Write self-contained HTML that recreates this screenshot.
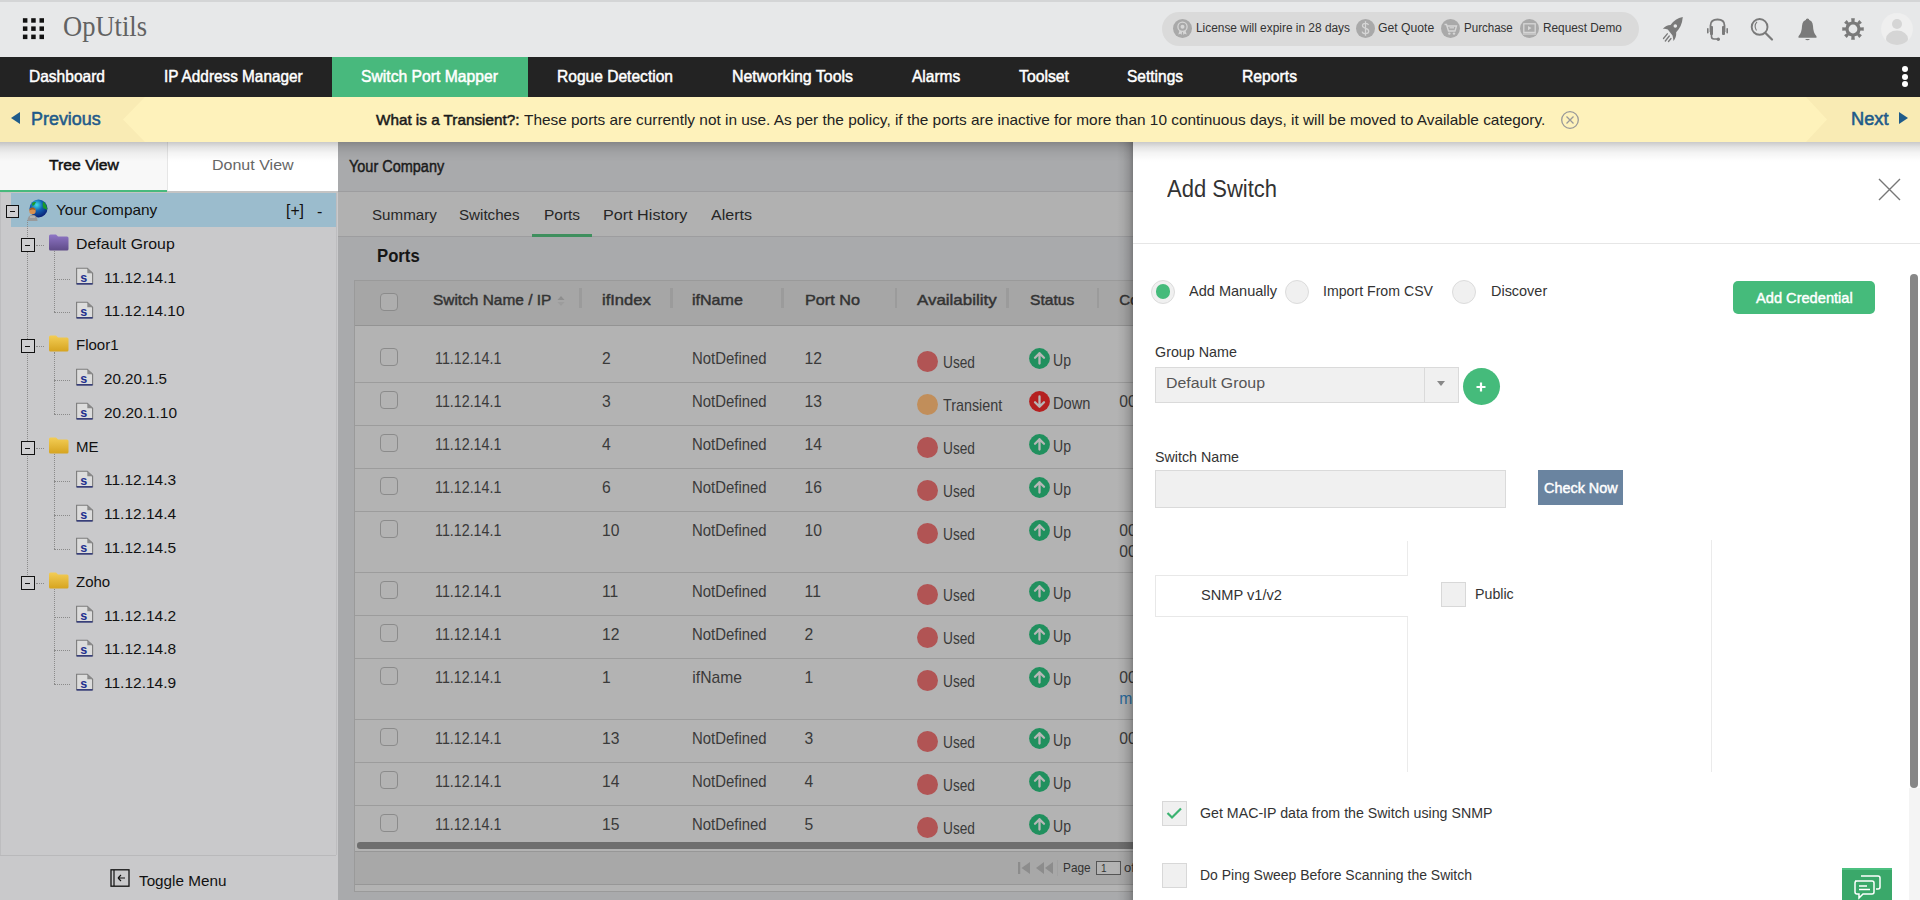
<!DOCTYPE html>
<html><head><meta charset="utf-8"><title>OpUtils</title>
<style>
*{box-sizing:border-box;margin:0;padding:0}
html,body{width:1920px;height:900px;overflow:hidden;background:#fff;font-family:"Liberation Sans",sans-serif}
.t{position:absolute;line-height:1;white-space:nowrap;transform-origin:0 0;z-index:2}
.a{position:absolute}
.z{z-index:6}
</style></head><body>
<div class='a' style='left:0;top:0;width:1920px;height:57px;background:#e7e8e9'></div>
<div class='a' style='left:0;top:0;width:1920px;height:1.5px;background:#d4d5d6'></div>
<svg class='a' style='left:0;top:0' width='60' height='57'><rect x='22.90' y='18.20' width='4.5' height='4.5' fill='#111'/><rect x='31.20' y='18.20' width='4.5' height='4.5' fill='#111'/><rect x='39.50' y='18.20' width='4.5' height='4.5' fill='#111'/><rect x='22.90' y='26.40' width='4.5' height='4.5' fill='#111'/><rect x='31.20' y='26.40' width='4.5' height='4.5' fill='#111'/><rect x='39.50' y='26.40' width='4.5' height='4.5' fill='#111'/><rect x='22.90' y='34.60' width='4.5' height='4.5' fill='#111'/><rect x='31.20' y='34.60' width='4.5' height='4.5' fill='#111'/><rect x='39.50' y='34.60' width='4.5' height='4.5' fill='#111'/></svg>
<div class='a' style='left:1162px;top:12px;width:477px;height:34px;border-radius:17px;background:#dadada'></div>
<div class='a' style='left:1173.0px;top:19px;width:19px;height:19px;border-radius:50%;background:#a9a9a9'></div>
<div class='a' style='left:1356.0px;top:19px;width:19px;height:19px;border-radius:50%;background:#a9a9a9'></div>
<div class='a' style='left:1441.0px;top:19px;width:19px;height:19px;border-radius:50%;background:#a9a9a9'></div>
<div class='a' style='left:1519.5px;top:19px;width:19px;height:19px;border-radius:50%;background:#a9a9a9'></div>
<svg class='a' style='left:1173px;top:19px' width='19' height='19' viewBox='0 0 19 19'><circle cx='9.5' cy='7.8' r='4.6' fill='none' stroke='#d6d6d6' stroke-width='1.3'/><circle cx='9.5' cy='7.8' r='2' fill='#d6d6d6'/><path d='M6.5 11.5 L5.3 15.5 L7.5 14.8 L8.5 16 L9.3 12.5 M12.5 11.5 L13.7 15.5 L11.5 14.8 L10.5 16 L9.7 12.5' fill='#d6d6d6'/></svg>
<svg class='a' style='left:1356px;top:19px' width='19' height='19' viewBox='0 0 19 19'><path d='M12.5 6 Q12 4.3 9.5 4.3 Q6.5 4.3 6.5 6.6 Q6.5 8.6 9.5 9.3 Q12.7 10 12.7 12.3 Q12.7 14.7 9.5 14.7 Q6.7 14.7 6.2 12.6 M9.5 2.3 V16.7' fill='none' stroke='#d6d6d6' stroke-width='1.3'/></svg>
<svg class='a' style='left:1441px;top:19px' width='19' height='19' viewBox='0 0 19 19'><path d='M3.5 5.5 H5.5 L7.5 12 H14 L15.5 7 H6.3' fill='none' stroke='#d6d6d6' stroke-width='1.4'/><path d='M8.5 8.8 H13' stroke='#d6d6d6' stroke-width='1.2'/><circle cx='8.3' cy='14.6' r='1.2' fill='#d6d6d6'/><circle cx='13' cy='14.6' r='1.2' fill='#d6d6d6'/></svg>
<svg class='a' style='left:1519.5px;top:19px' width='19' height='19' viewBox='0 0 19 19'><rect x='3.8' y='4.8' width='11.4' height='8.6' fill='none' stroke='#d6d6d6' stroke-width='1.3'/><path d='M8 6.9 L11.5 9.1 L8 11.3 Z' fill='#d6d6d6'/><path d='M3 15 H16' stroke='#d6d6d6' stroke-width='1.2'/></svg>
<svg class='a' style='left:1660px;top:16px' width='24' height='27' viewBox='0 0 24 27'><path d='M22.8 1 Q15 2.5 10.5 9 Q6 9 2.8 12.8 Q5.5 12.5 7.8 13.5 L12.5 19.5 Q13.2 22.5 13.5 25 Q16.5 21.5 16.2 16.2 Q22 10.5 22.8 1 Z' fill='#7a7a7a'/><circle cx='15.3' cy='10' r='1.8' fill='#e7e8e9'/><path d='M3.5 22.5 L7.3 17.8 M5.3 25 L9.3 20 M8.5 25.5 L11 22.5' stroke='#7a7a7a' stroke-width='1.3' stroke-linecap='round'/></svg>
<svg class='a' style='left:1706px;top:17.5px' width='23' height='24' viewBox='0 0 23 24'><path d='M4.5 14 V7.5 Q4.5 1.5 11.5 1.5 Q18.5 1.5 18.5 7.5 V14' fill='none' stroke='#7a7a7a' stroke-width='1.8'/><rect x='4' y='8' width='3' height='9' rx='1' fill='#7a7a7a'/><rect x='16' y='8' width='3' height='9' rx='1' fill='#7a7a7a'/><rect x='1' y='10' width='1.6' height='5.5' rx='0.8' fill='#7a7a7a'/><rect x='20.4' y='10' width='1.6' height='5.5' rx='0.8' fill='#7a7a7a'/><path d='M5.5 16 V18.5 Q5.5 21 8 21 H11' fill='none' stroke='#7a7a7a' stroke-width='1.6'/><circle cx='12.3' cy='21.2' r='1.7' fill='#7a7a7a'/></svg>
<svg class='a' style='left:1749px;top:16px' width='26' height='26' viewBox='0 0 26 26'><circle cx='10.6' cy='10.9' r='7.9' fill='none' stroke='#7a7a7a' stroke-width='1.9'/><path d='M16.5 17 L23 23.5' stroke='#7a7a7a' stroke-width='2.2' stroke-linecap='round'/><path d='M8 5.8 Q4.5 9.5 7.5 14.5' fill='none' stroke='#7a7a7a' stroke-width='1.1'/></svg>
<svg class='a' style='left:1797px;top:17.5px' width='21' height='24' viewBox='0 0 21 24'><circle cx='10.5' cy='2.3' r='1.8' fill='#7a7a7a'/><path d='M10.5 1.8 Q5.5 1.8 5 8 Q4.8 15 1.5 18.3 V19.8 H19.5 V18.3 Q16.2 15 16 8 Q15.5 1.8 10.5 1.8 Z' fill='#7a7a7a'/><path d='M8 21 Q10.5 23.5 13 21 Z' fill='#7a7a7a'/></svg>
<svg class='a' style='left:1842px;top:18px' width='22' height='22' viewBox='0 0 22 22'><path d='M9.51 3.65 L9.16 0.26 L12.84 0.26 L12.49 3.65 L15.14 4.75 L17.29 2.10 L19.90 4.71 L17.25 6.86 L18.35 9.51 L21.74 9.16 L21.74 12.84 L18.35 12.49 L17.25 15.14 L19.90 17.29 L17.29 19.90 L15.14 17.25 L12.49 18.35 L12.84 21.74 L9.16 21.74 L9.51 18.35 L6.86 17.25 L4.71 19.90 L2.10 17.29 L4.75 15.14 L3.65 12.49 L0.26 12.84 L0.26 9.16 L3.65 9.51 L4.75 6.86 L2.10 4.71 L4.71 2.10 L6.86 4.75 Z' fill='#7a7a7a'/><circle cx='11' cy='11' r='7.6' fill='#7a7a7a'/><circle cx='11' cy='11' r='4.4' fill='#e7e8e9'/></svg>
<svg class='a' style='left:1881px;top:12.7px' width='32' height='32' viewBox='0 0 32 32'><defs><clipPath id='avc'><circle cx='16' cy='16' r='15.9'/></clipPath></defs><circle cx='16' cy='16' r='15.9' fill='#efefef'/><g clip-path='url(#avc)'><circle cx='16' cy='11' r='5' fill='#d5d5d5'/><ellipse cx='16' cy='26' rx='11' ry='8.5' fill='#d5d5d5'/></g></svg>
<div class='a' style='left:0;top:57px;width:1920px;height:40px;background:#232323'></div>
<div class='a' style='left:332px;top:57px;width:196px;height:40px;background:#48b97d'></div>
<div class='a' style='left:1901.5px;top:66.0px;width:6px;height:6px;border-radius:50%;background:#fff'></div>
<div class='a' style='left:1901.5px;top:73.7px;width:6px;height:6px;border-radius:50%;background:#fff'></div>
<div class='a' style='left:1901.5px;top:81.4px;width:6px;height:6px;border-radius:50%;background:#fff'></div>
<div class='a' style='left:0;top:97px;width:1920px;height:45px;background:#fef2bb'></div>
<div class='a' style='left:0;top:97px;width:145px;height:45px;background:#f9ebb4;clip-path:polygon(0 0,100% 0,123px 22.5px,100% 100%,0 100%)'></div>
<div class='a' style='left:1806px;top:97px;width:114px;height:45px;background:#f9ebb4;clip-path:polygon(0 0,100% 0,100% 100%,0 100%,21px 22.5px)'></div>
<div class='a' style='left:11px;top:112px;width:0;height:0;border-top:6.5px solid transparent;border-bottom:6.5px solid transparent;border-right:9px solid #1f5b8a'></div>
<div class='a' style='left:1899px;top:112px;width:0;height:0;border-top:6.5px solid transparent;border-bottom:6.5px solid transparent;border-left:9px solid #1f5b8a'></div>
<svg class='a' style='left:1559.5px;top:109.5px' width='20' height='20' viewBox='0 0 20 20'><circle cx='10' cy='10' r='8.3' fill='none' stroke='#999' stroke-width='1.3'/><path d='M6.5 6.5 L13.5 13.5 M13.5 6.5 L6.5 13.5' stroke='#999' stroke-width='1.3'/></svg>
<div class='a' style='left:0;top:142px;width:338px;height:758px;background:#c9c9cb'></div>
<div class='a' style='left:0;top:142px;width:168px;height:49px;background:#f8f8f8'></div>
<div class='a' style='left:168px;top:142px;width:170px;height:49px;background:#fff'></div>
<div class='a' style='left:167px;top:142px;width:1px;height:49px;background:#e6e6e6'></div>
<div class='a' style='left:0;top:191px;width:338px;height:2px;background:#c4c4c4'></div>
<div class='a' style='left:0;top:189.5px;width:167px;height:2px;background:#48b97d'></div>
<div class='a' style='left:0;top:193px;width:1px;height:662px;background:#bdbdbf'></div>
<div class='a' style='left:335.5px;top:193px;width:1px;height:662px;background:#bdbdbf'></div>
<div class='a' style='left:0;top:855px;width:336px;height:1px;background:#b9b9bb'></div>
<div class='a' style='left:11px;top:193px;width:325px;height:33.5px;background:#9bbccd'></div>
<div class='a' style='left:26.8px;top:220px;width:0;height:362.79999999999995px;border-left:1px dotted #8a8a8a'></div>
<div class='a' style='left:6px;top:204.5px;width:13px;height:13px;border:1.3px solid #111;background:#cfcfd1'><div class='a' style='left:2.9px;top:5.6px;width:5px;height:1px;background:#111'></div></div>
<div class='a' style='left:35.5px;top:245px;width:8.5px;height:0;border-top:1px dotted #8a8a8a'></div>
<div class='a' style='left:21px;top:237.8px;width:14px;height:14px;border:1.3px solid #111;background:#cfcfd1'><div class='a' style='left:3.4px;top:6.1px;width:5px;height:1px;background:#111'></div></div>
<svg class='a' style='left:47.5px;top:233.8px' width='21' height='17' viewBox='0 0 21 17'><defs><linearGradient id='g47.5233.8' x1='0' y1='0' x2='0' y2='1'><stop offset='0' stop-color='#8f76c6'/><stop offset='1' stop-color='#5f4b88'/></linearGradient></defs><path d='M1 2 Q1 0.5 2.5 0.5 H8 L10 2.5 H19 Q20.5 2.5 20.5 4 V15 Q20.5 16.5 19 16.5 H2.5 Q1 16.5 1 15 Z' fill='url(#g47.5233.8)'/></svg>
<div class='a' style='left:53.8px;top:250.8px;width:0;height:61.599999999999966px;border-left:1px dotted #8a8a8a'></div>
<div class='a' style='left:54px;top:279px;width:16px;height:0;border-top:1px dotted #8a8a8a'></div>
<svg class='a' style='left:75.2px;top:267.0px' width='19' height='19' viewBox='0 0 19 19'><path d='M1.6 1.2 H12.3 L17.6 6.3 V16.8 H1.6 Z' fill='#dcdcdc' stroke='#7c7c7c' stroke-width='1.1'/><path d='M12.3 1.2 V6.3 H17.6 Z' fill='#8a8a8a'/><path d='M1.6 16.9 H17.6' stroke='#1a2370' stroke-width='1.3'/><text x='5.2' y='15' font-family='Liberation Sans' font-weight='700' font-size='12.5' fill='#22308f'>s</text></svg>
<div class='a' style='left:54px;top:312px;width:16px;height:0;border-top:1px dotted #8a8a8a'></div>
<svg class='a' style='left:75.2px;top:300.79999999999995px' width='19' height='19' viewBox='0 0 19 19'><path d='M1.6 1.2 H12.3 L17.6 6.3 V16.8 H1.6 Z' fill='#dcdcdc' stroke='#7c7c7c' stroke-width='1.1'/><path d='M12.3 1.2 V6.3 H17.6 Z' fill='#8a8a8a'/><path d='M1.6 16.9 H17.6' stroke='#1a2370' stroke-width='1.3'/><text x='5.2' y='15' font-family='Liberation Sans' font-weight='700' font-size='12.5' fill='#22308f'>s</text></svg>
<div class='a' style='left:35.5px;top:346px;width:8.5px;height:0;border-top:1px dotted #8a8a8a'></div>
<div class='a' style='left:21px;top:339.2px;width:14px;height:14px;border:1.3px solid #111;background:#cfcfd1'><div class='a' style='left:3.4px;top:6.1px;width:5px;height:1px;background:#111'></div></div>
<svg class='a' style='left:47.5px;top:335.2px' width='21' height='17' viewBox='0 0 21 17'><defs><linearGradient id='g47.5335.2' x1='0' y1='0' x2='0' y2='1'><stop offset='0' stop-color='#f3cd55'/><stop offset='1' stop-color='#d6a420'/></linearGradient></defs><path d='M1 2 Q1 0.5 2.5 0.5 H8 L10 2.5 H19 Q20.5 2.5 20.5 4 V15 Q20.5 16.5 19 16.5 H2.5 Q1 16.5 1 15 Z' fill='url(#g47.5335.2)'/></svg>
<div class='a' style='left:53.8px;top:352.2px;width:0;height:61.599999999999966px;border-left:1px dotted #8a8a8a'></div>
<div class='a' style='left:54px;top:380px;width:16px;height:0;border-top:1px dotted #8a8a8a'></div>
<svg class='a' style='left:75.2px;top:368.4px' width='19' height='19' viewBox='0 0 19 19'><path d='M1.6 1.2 H12.3 L17.6 6.3 V16.8 H1.6 Z' fill='#dcdcdc' stroke='#7c7c7c' stroke-width='1.1'/><path d='M12.3 1.2 V6.3 H17.6 Z' fill='#8a8a8a'/><path d='M1.6 16.9 H17.6' stroke='#1a2370' stroke-width='1.3'/><text x='5.2' y='15' font-family='Liberation Sans' font-weight='700' font-size='12.5' fill='#22308f'>s</text></svg>
<div class='a' style='left:54px;top:414px;width:16px;height:0;border-top:1px dotted #8a8a8a'></div>
<svg class='a' style='left:75.2px;top:402.19999999999993px' width='19' height='19' viewBox='0 0 19 19'><path d='M1.6 1.2 H12.3 L17.6 6.3 V16.8 H1.6 Z' fill='#dcdcdc' stroke='#7c7c7c' stroke-width='1.1'/><path d='M12.3 1.2 V6.3 H17.6 Z' fill='#8a8a8a'/><path d='M1.6 16.9 H17.6' stroke='#1a2370' stroke-width='1.3'/><text x='5.2' y='15' font-family='Liberation Sans' font-weight='700' font-size='12.5' fill='#22308f'>s</text></svg>
<div class='a' style='left:35.5px;top:448px;width:8.5px;height:0;border-top:1px dotted #8a8a8a'></div>
<div class='a' style='left:21px;top:440.59999999999997px;width:14px;height:14px;border:1.3px solid #111;background:#cfcfd1'><div class='a' style='left:3.4px;top:6.1px;width:5px;height:1px;background:#111'></div></div>
<svg class='a' style='left:47.5px;top:436.59999999999997px' width='21' height='17' viewBox='0 0 21 17'><defs><linearGradient id='g47.5436.59999999999997' x1='0' y1='0' x2='0' y2='1'><stop offset='0' stop-color='#f3cd55'/><stop offset='1' stop-color='#d6a420'/></linearGradient></defs><path d='M1 2 Q1 0.5 2.5 0.5 H8 L10 2.5 H19 Q20.5 2.5 20.5 4 V15 Q20.5 16.5 19 16.5 H2.5 Q1 16.5 1 15 Z' fill='url(#g47.5436.59999999999997)'/></svg>
<div class='a' style='left:53.8px;top:453.59999999999997px;width:0;height:95.40000000000003px;border-left:1px dotted #8a8a8a'></div>
<div class='a' style='left:54px;top:481px;width:16px;height:0;border-top:1px dotted #8a8a8a'></div>
<svg class='a' style='left:75.2px;top:469.79999999999995px' width='19' height='19' viewBox='0 0 19 19'><path d='M1.6 1.2 H12.3 L17.6 6.3 V16.8 H1.6 Z' fill='#dcdcdc' stroke='#7c7c7c' stroke-width='1.1'/><path d='M12.3 1.2 V6.3 H17.6 Z' fill='#8a8a8a'/><path d='M1.6 16.9 H17.6' stroke='#1a2370' stroke-width='1.3'/><text x='5.2' y='15' font-family='Liberation Sans' font-weight='700' font-size='12.5' fill='#22308f'>s</text></svg>
<div class='a' style='left:54px;top:515px;width:16px;height:0;border-top:1px dotted #8a8a8a'></div>
<svg class='a' style='left:75.2px;top:503.6px' width='19' height='19' viewBox='0 0 19 19'><path d='M1.6 1.2 H12.3 L17.6 6.3 V16.8 H1.6 Z' fill='#dcdcdc' stroke='#7c7c7c' stroke-width='1.1'/><path d='M12.3 1.2 V6.3 H17.6 Z' fill='#8a8a8a'/><path d='M1.6 16.9 H17.6' stroke='#1a2370' stroke-width='1.3'/><text x='5.2' y='15' font-family='Liberation Sans' font-weight='700' font-size='12.5' fill='#22308f'>s</text></svg>
<div class='a' style='left:54px;top:549px;width:16px;height:0;border-top:1px dotted #8a8a8a'></div>
<svg class='a' style='left:75.2px;top:537.4px' width='19' height='19' viewBox='0 0 19 19'><path d='M1.6 1.2 H12.3 L17.6 6.3 V16.8 H1.6 Z' fill='#dcdcdc' stroke='#7c7c7c' stroke-width='1.1'/><path d='M12.3 1.2 V6.3 H17.6 Z' fill='#8a8a8a'/><path d='M1.6 16.9 H17.6' stroke='#1a2370' stroke-width='1.3'/><text x='5.2' y='15' font-family='Liberation Sans' font-weight='700' font-size='12.5' fill='#22308f'>s</text></svg>
<div class='a' style='left:35.5px;top:583px;width:8.5px;height:0;border-top:1px dotted #8a8a8a'></div>
<div class='a' style='left:21px;top:575.8px;width:14px;height:14px;border:1.3px solid #111;background:#cfcfd1'><div class='a' style='left:3.4px;top:6.1px;width:5px;height:1px;background:#111'></div></div>
<svg class='a' style='left:47.5px;top:571.8px' width='21' height='17' viewBox='0 0 21 17'><defs><linearGradient id='g47.5571.8' x1='0' y1='0' x2='0' y2='1'><stop offset='0' stop-color='#f3cd55'/><stop offset='1' stop-color='#d6a420'/></linearGradient></defs><path d='M1 2 Q1 0.5 2.5 0.5 H8 L10 2.5 H19 Q20.5 2.5 20.5 4 V15 Q20.5 16.5 19 16.5 H2.5 Q1 16.5 1 15 Z' fill='url(#g47.5571.8)'/></svg>
<div class='a' style='left:53.8px;top:588.8px;width:0;height:95.39999999999998px;border-left:1px dotted #8a8a8a'></div>
<div class='a' style='left:54px;top:617px;width:16px;height:0;border-top:1px dotted #8a8a8a'></div>
<svg class='a' style='left:75.2px;top:604.9999999999999px' width='19' height='19' viewBox='0 0 19 19'><path d='M1.6 1.2 H12.3 L17.6 6.3 V16.8 H1.6 Z' fill='#dcdcdc' stroke='#7c7c7c' stroke-width='1.1'/><path d='M12.3 1.2 V6.3 H17.6 Z' fill='#8a8a8a'/><path d='M1.6 16.9 H17.6' stroke='#1a2370' stroke-width='1.3'/><text x='5.2' y='15' font-family='Liberation Sans' font-weight='700' font-size='12.5' fill='#22308f'>s</text></svg>
<div class='a' style='left:54px;top:650px;width:16px;height:0;border-top:1px dotted #8a8a8a'></div>
<svg class='a' style='left:75.2px;top:638.8px' width='19' height='19' viewBox='0 0 19 19'><path d='M1.6 1.2 H12.3 L17.6 6.3 V16.8 H1.6 Z' fill='#dcdcdc' stroke='#7c7c7c' stroke-width='1.1'/><path d='M12.3 1.2 V6.3 H17.6 Z' fill='#8a8a8a'/><path d='M1.6 16.9 H17.6' stroke='#1a2370' stroke-width='1.3'/><text x='5.2' y='15' font-family='Liberation Sans' font-weight='700' font-size='12.5' fill='#22308f'>s</text></svg>
<div class='a' style='left:54px;top:684px;width:16px;height:0;border-top:1px dotted #8a8a8a'></div>
<svg class='a' style='left:75.2px;top:672.5999999999999px' width='19' height='19' viewBox='0 0 19 19'><path d='M1.6 1.2 H12.3 L17.6 6.3 V16.8 H1.6 Z' fill='#dcdcdc' stroke='#7c7c7c' stroke-width='1.1'/><path d='M12.3 1.2 V6.3 H17.6 Z' fill='#8a8a8a'/><path d='M1.6 16.9 H17.6' stroke='#1a2370' stroke-width='1.3'/><text x='5.2' y='15' font-family='Liberation Sans' font-weight='700' font-size='12.5' fill='#22308f'>s</text></svg>
<svg class='a' style='left:110px;top:868.5px' width='20' height='18' viewBox='0 0 20 18'><rect x='1' y='0.8' width='18' height='16.4' fill='none' stroke='#111' stroke-width='1.3'/><path d='M4 1 V17' stroke='#111' stroke-width='1.2'/><path d='M8 9 H15 M8 9 L11 6 M8 9 L11 12' stroke='#111' stroke-width='1.1' fill='none'/></svg>
<svg class='a' style='left:26px;top:199px' width='22' height='23' viewBox='0 0 22 23'><defs><radialGradient id='gl' cx='0.4' cy='0.3' r='0.75'><stop offset='0' stop-color='#40e0e8'/><stop offset='0.45' stop-color='#1060b0'/><stop offset='1' stop-color='#0a1a70'/></radialGradient></defs><circle cx='12.5' cy='9.5' r='9' fill='url(#gl)'/><path d='M17 2.5 Q21.5 6 21 11 Q19 9 17.5 9.5 Q16 7 17 2.5 Z' fill='#1a9a2a'/><path d='M6 4 Q8 2.5 10 3 Q9 6 6.5 7 Z' fill='#1a9a2a'/><circle cx='6.5' cy='12' r='3.2' fill='#d89050'/><path d='M3.3 11.5 Q4 8 7 8.5 Q9.5 9 9.8 11.5 Q7 9.5 3.3 11.5 Z' fill='#a05a20'/><path d='M1.5 22 Q1.5 16 6.5 15.8 Q11.5 16 11.5 22 Z' fill='#9a9a9a'/><path d='M4 18 H9' stroke='#ccc' stroke-width='1'/></svg>
<div class='a' style='left:338px;top:142px;width:795px;height:758px;background:#a9aaac'></div>
<div class='a' style='left:338px;top:191px;width:795px;height:1px;background:#9d9d9f'></div>
<div class='a' style='left:338px;top:192px;width:795px;height:44px;background:#b1b1b1'></div>
<div class='a' style='left:338px;top:236px;width:795px;height:1px;background:#9d9d9f'></div>
<div class='a' style='left:531.7px;top:234px;width:60.3px;height:3px;background:#3f8f5e'></div>
<div class='a' style='left:354px;top:279.5px;width:779px;height:612.5px;background:#b3b3b3;border:1px solid #9a9a9a;border-right:none'></div>
<div class='a' style='left:355px;top:280.5px;width:778px;height:45.5px;background:#a6a6a6;border-bottom:1px solid #939393'></div>
<div class='a' style='left:579.4px;top:288px;width:2.5px;height:20px;background:#9b9b9b'></div>
<div class='a' style='left:670px;top:288px;width:2.5px;height:20px;background:#9b9b9b'></div>
<div class='a' style='left:781.3px;top:288px;width:2.5px;height:20px;background:#9b9b9b'></div>
<div class='a' style='left:894.7px;top:288px;width:2.5px;height:20px;background:#9b9b9b'></div>
<div class='a' style='left:1006.3px;top:288px;width:2.5px;height:20px;background:#9b9b9b'></div>
<div class='a' style='left:1096.6px;top:288px;width:2.5px;height:20px;background:#9b9b9b'></div>
<div class='a' style='left:380px;top:292.9px;width:18px;height:18px;border:1px solid #8b8b8b;border-radius:4px;background:#aeaeae'></div>
<svg class='a' style='left:556px;top:294px' width='10' height='14' viewBox='0 0 10 14'><path d='M5 2 L8.5 6 H1.5 Z' fill='#8e8e8e'/><path d='M5 12 L8.5 8 H1.5 Z' fill='#9d9d9d'/></svg>
<div class='a' style='left:380px;top:347.6px;width:18px;height:18px;border:1px solid #8b8b8b;border-radius:4px;background:#b3b3b3'></div>
<div class='a' style='left:916.8px;top:351px;width:21px;height:21px;border-radius:50%;background:#b15454'></div>
<svg class='a' style='left:1028.7px;top:347.8px' width='21' height='21' viewBox='0 0 21 21'><circle cx='10.5' cy='10.5' r='10.4' fill='#20905e'/><path d='M10.5 15.5 V5.2 M6 9.7 L10.5 5.2 L15 9.7' stroke='#b7b7b7' stroke-width='2.3' fill='none' stroke-linecap='round' stroke-linejoin='round'/></svg>
<div class='a' style='left:355px;top:381.8px;width:778px;height:1px;background:#9c9c9c'></div>
<div class='a' style='left:380px;top:390.90000000000003px;width:18px;height:18px;border:1px solid #8b8b8b;border-radius:4px;background:#b3b3b3'></div>
<div class='a' style='left:916.8px;top:394.3px;width:21px;height:21px;border-radius:50%;background:#c18e5a'></div>
<svg class='a' style='left:1028.7px;top:391.1px' width='21' height='21' viewBox='0 0 21 21'><circle cx='10.5' cy='10.5' r='10.4' fill='#b52020'/><path d='M10.5 5.5 V15.8 M6 11.3 L10.5 15.8 L15 11.3' stroke='#b7b7b7' stroke-width='2.3' fill='none' stroke-linecap='round' stroke-linejoin='round'/></svg>
<div class='a' style='left:355px;top:424.8px;width:778px;height:1px;background:#9c9c9c'></div>
<div class='a' style='left:380px;top:433.90000000000003px;width:18px;height:18px;border:1px solid #8b8b8b;border-radius:4px;background:#b3b3b3'></div>
<div class='a' style='left:916.8px;top:437.3px;width:21px;height:21px;border-radius:50%;background:#b15454'></div>
<svg class='a' style='left:1028.7px;top:434.1px' width='21' height='21' viewBox='0 0 21 21'><circle cx='10.5' cy='10.5' r='10.4' fill='#20905e'/><path d='M10.5 15.5 V5.2 M6 9.7 L10.5 5.2 L15 9.7' stroke='#b7b7b7' stroke-width='2.3' fill='none' stroke-linecap='round' stroke-linejoin='round'/></svg>
<div class='a' style='left:355px;top:467.8px;width:778px;height:1px;background:#9c9c9c'></div>
<div class='a' style='left:380px;top:476.90000000000003px;width:18px;height:18px;border:1px solid #8b8b8b;border-radius:4px;background:#b3b3b3'></div>
<div class='a' style='left:916.8px;top:480.3px;width:21px;height:21px;border-radius:50%;background:#b15454'></div>
<svg class='a' style='left:1028.7px;top:477.1px' width='21' height='21' viewBox='0 0 21 21'><circle cx='10.5' cy='10.5' r='10.4' fill='#20905e'/><path d='M10.5 15.5 V5.2 M6 9.7 L10.5 5.2 L15 9.7' stroke='#b7b7b7' stroke-width='2.3' fill='none' stroke-linecap='round' stroke-linejoin='round'/></svg>
<div class='a' style='left:355px;top:510.8px;width:778px;height:1px;background:#9c9c9c'></div>
<div class='a' style='left:380px;top:519.9px;width:18px;height:18px;border:1px solid #8b8b8b;border-radius:4px;background:#b3b3b3'></div>
<div class='a' style='left:916.8px;top:523.3px;width:21px;height:21px;border-radius:50%;background:#b15454'></div>
<svg class='a' style='left:1028.7px;top:520.1px' width='21' height='21' viewBox='0 0 21 21'><circle cx='10.5' cy='10.5' r='10.4' fill='#20905e'/><path d='M10.5 15.5 V5.2 M6 9.7 L10.5 5.2 L15 9.7' stroke='#b7b7b7' stroke-width='2.3' fill='none' stroke-linecap='round' stroke-linejoin='round'/></svg>
<div class='a' style='left:355px;top:571.8px;width:778px;height:1px;background:#9c9c9c'></div>
<div class='a' style='left:380px;top:580.9px;width:18px;height:18px;border:1px solid #8b8b8b;border-radius:4px;background:#b3b3b3'></div>
<div class='a' style='left:916.8px;top:584.3px;width:21px;height:21px;border-radius:50%;background:#b15454'></div>
<svg class='a' style='left:1028.7px;top:581.0999999999999px' width='21' height='21' viewBox='0 0 21 21'><circle cx='10.5' cy='10.5' r='10.4' fill='#20905e'/><path d='M10.5 15.5 V5.2 M6 9.7 L10.5 5.2 L15 9.7' stroke='#b7b7b7' stroke-width='2.3' fill='none' stroke-linecap='round' stroke-linejoin='round'/></svg>
<div class='a' style='left:355px;top:614.8px;width:778px;height:1px;background:#9c9c9c'></div>
<div class='a' style='left:380px;top:623.9px;width:18px;height:18px;border:1px solid #8b8b8b;border-radius:4px;background:#b3b3b3'></div>
<div class='a' style='left:916.8px;top:627.3px;width:21px;height:21px;border-radius:50%;background:#b15454'></div>
<svg class='a' style='left:1028.7px;top:624.0999999999999px' width='21' height='21' viewBox='0 0 21 21'><circle cx='10.5' cy='10.5' r='10.4' fill='#20905e'/><path d='M10.5 15.5 V5.2 M6 9.7 L10.5 5.2 L15 9.7' stroke='#b7b7b7' stroke-width='2.3' fill='none' stroke-linecap='round' stroke-linejoin='round'/></svg>
<div class='a' style='left:355px;top:657.8px;width:778px;height:1px;background:#9c9c9c'></div>
<div class='a' style='left:380px;top:666.9px;width:18px;height:18px;border:1px solid #8b8b8b;border-radius:4px;background:#b3b3b3'></div>
<div class='a' style='left:916.8px;top:670.3px;width:21px;height:21px;border-radius:50%;background:#b15454'></div>
<svg class='a' style='left:1028.7px;top:667.0999999999999px' width='21' height='21' viewBox='0 0 21 21'><circle cx='10.5' cy='10.5' r='10.4' fill='#20905e'/><path d='M10.5 15.5 V5.2 M6 9.7 L10.5 5.2 L15 9.7' stroke='#b7b7b7' stroke-width='2.3' fill='none' stroke-linecap='round' stroke-linejoin='round'/></svg>
<div class='a' style='left:355px;top:718.5px;width:778px;height:1px;background:#9c9c9c'></div>
<div class='a' style='left:380px;top:727.6px;width:18px;height:18px;border:1px solid #8b8b8b;border-radius:4px;background:#b3b3b3'></div>
<div class='a' style='left:916.8px;top:731px;width:21px;height:21px;border-radius:50%;background:#b15454'></div>
<svg class='a' style='left:1028.7px;top:727.8px' width='21' height='21' viewBox='0 0 21 21'><circle cx='10.5' cy='10.5' r='10.4' fill='#20905e'/><path d='M10.5 15.5 V5.2 M6 9.7 L10.5 5.2 L15 9.7' stroke='#b7b7b7' stroke-width='2.3' fill='none' stroke-linecap='round' stroke-linejoin='round'/></svg>
<div class='a' style='left:355px;top:761.8px;width:778px;height:1px;background:#9c9c9c'></div>
<div class='a' style='left:380px;top:770.9px;width:18px;height:18px;border:1px solid #8b8b8b;border-radius:4px;background:#b3b3b3'></div>
<div class='a' style='left:916.8px;top:774.3px;width:21px;height:21px;border-radius:50%;background:#b15454'></div>
<svg class='a' style='left:1028.7px;top:771.0999999999999px' width='21' height='21' viewBox='0 0 21 21'><circle cx='10.5' cy='10.5' r='10.4' fill='#20905e'/><path d='M10.5 15.5 V5.2 M6 9.7 L10.5 5.2 L15 9.7' stroke='#b7b7b7' stroke-width='2.3' fill='none' stroke-linecap='round' stroke-linejoin='round'/></svg>
<div class='a' style='left:355px;top:804.8px;width:778px;height:1px;background:#9c9c9c'></div>
<div class='a' style='left:380px;top:813.9px;width:18px;height:18px;border:1px solid #8b8b8b;border-radius:4px;background:#b3b3b3'></div>
<div class='a' style='left:916.8px;top:817.3px;width:21px;height:21px;border-radius:50%;background:#b15454'></div>
<svg class='a' style='left:1028.7px;top:814.0999999999999px' width='21' height='21' viewBox='0 0 21 21'><circle cx='10.5' cy='10.5' r='10.4' fill='#20905e'/><path d='M10.5 15.5 V5.2 M6 9.7 L10.5 5.2 L15 9.7' stroke='#b7b7b7' stroke-width='2.3' fill='none' stroke-linecap='round' stroke-linejoin='round'/></svg>
<div class='a' style='left:357px;top:842.2px;width:790px;height:6.4px;border-radius:3.2px;background:#6e6e6e'></div>
<div class='a' style='left:355px;top:851px;width:778px;height:1px;background:#979797'></div>
<div class='a' style='left:355px;top:852px;width:778px;height:33px;background:#a8a8a8;border-bottom:1px solid #979797'></div>
<div class='a' style='left:355px;top:892px;width:778px;height:8px;background:#a9aaac'></div>
<svg class='a' style='left:1018px;top:860px' width='40' height='16' viewBox='0 0 40 16'><path d='M1 2 V14' stroke='#8c8c8c' stroke-width='2.5'/><path d='M12 2 L3.5 8 L12 14 Z' fill='#8c8c8c'/><path d='M26 2 L18 8 L26 14 Z M35 2 L27 8 L35 14 Z' fill='#8c8c8c'/><path d='M40 0 V16' stroke='#9a9a9a' stroke-width='1'/></svg>
<div class='a' style='left:1095.5px;top:861px;width:25.5px;height:13.5px;border:1px solid #555;background:#b3b3b3'></div>
<div class='a' style='left:336px;top:855px;width:2px;height:45px;background:#c9c9cb'></div>
<div class='a' style='left:1133px;top:142px;width:787px;height:758px;background:#fff;z-index:5'></div>
<div class='a' style='left:1117px;top:142px;width:16px;height:758px;z-index:5;background:linear-gradient(to right,rgba(0,0,0,0),rgba(0,0,0,0.05) 40%,rgba(0,0,0,0.14) 75%,rgba(0,0,0,0.28))'></div>
<svg class='a z' style='left:1878px;top:177.5px' width='23' height='23' viewBox='0 0 23 23'><path d='M1 1 L22 22 M22 1 L1 22' stroke='#777' stroke-width='1.4'/></svg>
<div class='a z' style='left:1133px;top:243px;width:787px;height:1px;background:#e6e6e6'></div>
<div class='a z' style='left:1151px;top:279.5px;width:24px;height:24px;border-radius:50%;background:#f0f0f0;border:1px solid #dcdcdc'></div>
<div class='a z' style='left:1155.7px;top:284.2px;width:14.6px;height:14.6px;border-radius:50%;background:#45bb7b'></div>
<div class='a z' style='left:1284.6px;top:279.5px;width:24px;height:24px;border-radius:50%;background:#f0f0f0;border:1px solid #dcdcdc'></div>
<div class='a z' style='left:1451.8px;top:279.5px;width:24px;height:24px;border-radius:50%;background:#f0f0f0;border:1px solid #dcdcdc'></div>
<div class='a z' style='left:1733px;top:281.3px;width:142px;height:32.3px;border-radius:5px;background:#45bb7b'></div>
<div class='a z' style='left:1155px;top:366.5px;width:304px;height:36px;background:#f0f0f0;border:1px solid #dadada'></div>
<div class='a z' style='left:1424px;top:367px;width:1px;height:35px;background:#dadada'></div>
<div class='a z' style='left:1436.8px;top:381px;width:0;height:0;border-left:4.8px solid transparent;border-right:4.8px solid transparent;border-top:5px solid #888'></div>
<div class='a z' style='left:1462.9px;top:368px;width:37px;height:37px;border-radius:50%;background:#45bb7b'></div>
<svg class='a z' style='left:1475.4px;top:380.5px' width='12' height='12' viewBox='0 0 12 12'><path d='M6 1.5 V10.5 M1.5 6 H10.5' stroke='#fff' stroke-width='2.2'/></svg>
<div class='a z' style='left:1155px;top:470px;width:351px;height:37.5px;background:#f0f0f0;border:1px solid #dadada'></div>
<div class='a z' style='left:1538px;top:470px;width:85px;height:34.5px;background:#6a84a0'></div>
<div class='a z' style='left:1407px;top:541px;width:1px;height:34.5px;background:#ebebeb'></div>
<div class='a z' style='left:1407px;top:615.5px;width:1px;height:156.5px;background:#ebebeb'></div>
<div class='a z' style='left:1711px;top:540px;width:1px;height:232px;background:#ebebeb'></div>
<div class='a z' style='left:1155px;top:575px;width:253px;height:42px;border:1px solid #e8e8e8;border-right:none'></div>
<div class='a z' style='left:1441.4px;top:582.2px;width:24.5px;height:24.5px;background:#f0f0f0;border:1px solid #d8d8d8'></div>
<div class='a z' style='left:1162.2px;top:801.2px;width:24.5px;height:24.5px;background:#f0f0f0;border:1px solid #d8d8d8'></div>
<svg class='a z' style='left:1166px;top:806px' width='17' height='14' viewBox='0 0 17 14'><path d='M1.5 7 L6 11.5 L15 2.5' stroke='#3cb371' stroke-width='2.2' fill='none'/></svg>
<div class='a z' style='left:1162.2px;top:863.1px;width:24.5px;height:24.5px;background:#f0f0f0;border:1px solid #d8d8d8'></div>
<div class='a z' style='left:1909px;top:788px;width:11px;height:112px;background:#f4f4f4'></div>
<div class='a z' style='left:1910.3px;top:273.6px;width:7.6px;height:514.4px;border-radius:4px;background:#878787'></div>
<div class='a z' style='left:1842px;top:867.5px;width:50px;height:33px;background:#3aa86a;border-top:2px solid #4cc080'></div>
<svg class='a z' style='left:1852px;top:873px' width='30' height='27' viewBox='0 0 30 27'><path d='M9 3 H26 Q28 3 28 5 V14 Q28 16 26 16 H24' fill='none' stroke='#fff' stroke-width='1.5'/><path d='M3 8 H20 Q22 8 22 10 V19 Q22 21 20 21 H11 L7 25 V21 H5 Q3 21 3 19 V10 Q3 8 5 8 Z' fill='#3aa86a' stroke='#fff' stroke-width='1.5'/><path d='M7 13 H15 M7 16.5 H18' stroke='#fff' stroke-width='1.4'/></svg>
<div class='a' style='left:0;top:142px;width:1920px;height:20px;background:linear-gradient(rgba(0,0,0,0.21),rgba(0,0,0,0.11) 25%,rgba(0,0,0,0.045) 55%,rgba(0,0,0,0.01) 85%,rgba(0,0,0,0));z-index:7'></div>
<span class='t' style='left:63.0px;top:13.00px;font-size:28.5px;font-family:"Liberation Serif",serif;color:#626262;transform:scaleX(0.9306);'>OpUtils</span>
<span class='t' style='left:1196.0px;top:22.00px;font-size:12px;color:#333;transform:scaleX(0.9909);'>License will expire in 28 days</span>
<span class='t' style='left:1378.4px;top:22.00px;font-size:12px;color:#333;transform:scaleX(1.0167);'>Get Quote</span>
<span class='t' style='left:1464.2px;top:22.00px;font-size:12px;color:#333;transform:scaleX(0.9625);'>Purchase</span>
<span class='t' style='left:1542.5px;top:22.00px;font-size:12px;color:#333;transform:scaleX(0.9844);'>Request Demo</span>
<span class='t' style='left:29.0px;top:68.00px;font-size:16.5px;color:#fff;transform:scaleX(0.9414);-webkit-text-stroke:0.5px #fff;'>Dashboard</span>
<span class='t' style='left:164.0px;top:68.00px;font-size:16.5px;color:#fff;transform:scaleX(0.9289);-webkit-text-stroke:0.5px #fff;'>IP Address Manager</span>
<span class='t' style='left:361.0px;top:68.00px;font-size:16.5px;color:#fff;transform:scaleX(0.9515);-webkit-text-stroke:0.5px #fff;'>Switch Port Mapper</span>
<span class='t' style='left:557.0px;top:68.00px;font-size:16.5px;color:#fff;transform:scaleX(0.9437);-webkit-text-stroke:0.5px #fff;'>Rogue Detection</span>
<span class='t' style='left:731.7px;top:68.00px;font-size:16.5px;color:#fff;transform:scaleX(0.9653);-webkit-text-stroke:0.5px #fff;'>Networking Tools</span>
<span class='t' style='left:911.7px;top:68.00px;font-size:16.5px;color:#fff;transform:scaleX(0.9407);-webkit-text-stroke:0.5px #fff;'>Alarms</span>
<span class='t' style='left:1019.0px;top:68.00px;font-size:16.5px;color:#fff;transform:scaleX(0.9564);-webkit-text-stroke:0.5px #fff;'>Toolset</span>
<span class='t' style='left:1127.3px;top:68.00px;font-size:16.5px;color:#fff;transform:scaleX(0.9392);-webkit-text-stroke:0.5px #fff;'>Settings</span>
<span class='t' style='left:1242.2px;top:68.00px;font-size:16.5px;color:#fff;transform:scaleX(0.9519);-webkit-text-stroke:0.5px #fff;'>Reports</span>
<span class='t' style='left:31.0px;top:110.00px;font-size:18px;color:#1f5b8a;transform:scaleX(0.9953);-webkit-text-stroke:0.55px #1f5b8a;'>Previous</span>
<span class='t' style='left:1851.0px;top:110.00px;font-size:18px;color:#1f5b8a;transform:scaleX(1.0158);-webkit-text-stroke:0.55px #1f5b8a;'>Next</span>
<span class='t' style='left:375.6px;top:112.00px;font-size:15px;color:#1a1a1a;transform:scaleX(1.0177);-webkit-text-stroke:0.5px #1a1a1a;'>What is a Transient?:</span>
<span class='t' style='left:523.5px;top:112.00px;font-size:15px;color:#222;transform:scaleX(1.0259);'>These ports are currently not in use. As per the policy, if the ports are inactive for more than 10 continuous days, it will be moved to Available category.</span>
<span class='t' style='left:48.8px;top:157.00px;font-size:15px;color:#111;transform:scaleX(1.0494);-webkit-text-stroke:0.5px #111;'>Tree View</span>
<span class='t' style='left:212.0px;top:157.00px;font-size:15px;color:#666;transform:scaleX(1.0675);'>Donut View</span>
<span class='t' style='left:56.0px;top:202.00px;font-size:15px;color:#111;transform:scaleX(1.0266);'>Your Company</span>
<span class='t' style='left:76.0px;top:236.00px;font-size:15px;color:#111;transform:scaleX(1.0569);'>Default Group</span>
<span class='t' style='left:103.7px;top:270.00px;font-size:15px;color:#111;transform:scaleX(1.0344);'>11.12.14.1</span>
<span class='t' style='left:103.7px;top:303.00px;font-size:15px;color:#111;transform:scaleX(1.0302);'>11.12.14.10</span>
<span class='t' style='left:76.0px;top:337.00px;font-size:15px;color:#111;'>Floor1</span>
<span class='t' style='left:103.7px;top:371.00px;font-size:15px;color:#111;transform:scaleX(1.0070);'>20.20.1.5</span>
<span class='t' style='left:103.7px;top:405.00px;font-size:15px;color:#111;transform:scaleX(1.0295);'>20.20.1.10</span>
<span class='t' style='left:76.0px;top:439.00px;font-size:15px;color:#111;'>ME</span>
<span class='t' style='left:103.7px;top:472.00px;font-size:15px;color:#111;transform:scaleX(1.0344);'>11.12.14.3</span>
<span class='t' style='left:103.7px;top:506.00px;font-size:15px;color:#111;transform:scaleX(1.0344);'>11.12.14.4</span>
<span class='t' style='left:103.7px;top:540.00px;font-size:15px;color:#111;transform:scaleX(1.0344);'>11.12.14.5</span>
<span class='t' style='left:76.0px;top:574.00px;font-size:15px;color:#111;'>Zoho</span>
<span class='t' style='left:103.7px;top:608.00px;font-size:15px;color:#111;transform:scaleX(1.0344);'>11.12.14.2</span>
<span class='t' style='left:103.7px;top:641.00px;font-size:15px;color:#111;transform:scaleX(1.0344);'>11.12.14.8</span>
<span class='t' style='left:103.7px;top:675.00px;font-size:15px;color:#111;transform:scaleX(1.0344);'>11.12.14.9</span>
<span class='t' style='left:286.0px;top:203.00px;font-size:16px;color:#111;transform:scaleX(0.9871);'>[+]</span>
<span class='t' style='left:317.0px;top:204.00px;font-size:16px;color:#111;'>-</span>
<span class='t' style='left:139.1px;top:873.00px;font-size:15px;color:#111;transform:scaleX(1.0174);'>Toggle Menu</span>
<span class='t' style='left:349.4px;top:159.00px;font-size:16px;color:#1b1b1b;transform:scaleX(0.9045);-webkit-text-stroke:0.45px #1b1b1b;'>Your Company</span>
<span class='t' style='left:371.9px;top:207.00px;font-size:15.5px;color:#262626;transform:scaleX(0.9770);'>Summary</span>
<span class='t' style='left:459.4px;top:207.00px;font-size:15.5px;color:#262626;transform:scaleX(0.9769);'>Switches</span>
<span class='t' style='left:543.9px;top:207.00px;font-size:15.5px;color:#262626;transform:scaleX(0.9976);'>Ports</span>
<span class='t' style='left:603.4px;top:207.00px;font-size:15.5px;color:#262626;transform:scaleX(1.0424);'>Port History</span>
<span class='t' style='left:711.0px;top:207.00px;font-size:15.5px;color:#262626;transform:scaleX(1.0347);'>Alerts</span>
<span class='t' style='left:377.2px;top:247.00px;font-size:18px;font-weight:700;color:#161616;transform:scaleX(0.9279);'>Ports</span>
<span class='t' style='left:433.4px;top:292.00px;font-size:15px;color:#333;transform:scaleX(1.0283);-webkit-text-stroke:0.45px #333;'>Switch Name / IP</span>
<span class='t' style='left:602.0px;top:292.00px;font-size:15px;color:#333;transform:scaleX(1.1017);-webkit-text-stroke:0.45px #333;'>ifIndex</span>
<span class='t' style='left:692.3px;top:292.00px;font-size:15px;color:#333;transform:scaleX(1.0691);-webkit-text-stroke:0.45px #333;'>ifName</span>
<span class='t' style='left:804.6px;top:292.00px;font-size:15px;color:#333;transform:scaleX(1.0794);-webkit-text-stroke:0.45px #333;'>Port No</span>
<span class='t' style='left:917.4px;top:292.00px;font-size:15px;color:#333;transform:scaleX(1.1276);-webkit-text-stroke:0.45px #333;'>Availability</span>
<span class='t' style='left:1029.6px;top:292.00px;font-size:15px;color:#333;transform:scaleX(1.0416);-webkit-text-stroke:0.45px #333;'>Status</span>
<span class='t' style='left:1119.3px;top:292.00px;font-size:15px;color:#333;-webkit-text-stroke:0.45px #333;'>Co</span>
<span class='t' style='left:434.6px;top:351.00px;font-size:15.7px;color:#3a3a3a;transform:scaleX(0.9098);'>11.12.14.1</span>
<span class='t' style='left:602.0px;top:351.00px;font-size:15.7px;color:#3a3a3a;'>2</span>
<span class='t' style='left:692.3px;top:351.00px;font-size:15.7px;color:#3a3a3a;transform:scaleX(0.9505);'>NotDefined</span>
<span class='t' style='left:804.6px;top:351.00px;font-size:15.7px;color:#3a3a3a;'>12</span>
<span class='t' style='left:943.0px;top:355.00px;font-size:15.7px;color:#3a3a3a;transform:scaleX(0.8737);'>Used</span>
<span class='t' style='left:1053.0px;top:353.00px;font-size:15.7px;color:#3a3a3a;transform:scaleX(0.8972);'>Up</span>
<span class='t' style='left:434.6px;top:394.00px;font-size:15.7px;color:#3a3a3a;transform:scaleX(0.9098);'>11.12.14.1</span>
<span class='t' style='left:602.0px;top:394.00px;font-size:15.7px;color:#3a3a3a;'>3</span>
<span class='t' style='left:692.3px;top:394.00px;font-size:15.7px;color:#3a3a3a;transform:scaleX(0.9505);'>NotDefined</span>
<span class='t' style='left:804.6px;top:394.00px;font-size:15.7px;color:#3a3a3a;'>13</span>
<span class='t' style='left:943.0px;top:398.00px;font-size:15.7px;color:#3a3a3a;transform:scaleX(0.9134);'>Transient</span>
<span class='t' style='left:1053.0px;top:396.00px;font-size:15.7px;color:#3a3a3a;transform:scaleX(0.9349);'>Down</span>
<span class='t' style='left:1119.3px;top:394.00px;font-size:15.7px;color:#3a3a3a;'>00</span>
<span class='t' style='left:434.6px;top:437.00px;font-size:15.7px;color:#3a3a3a;transform:scaleX(0.9098);'>11.12.14.1</span>
<span class='t' style='left:602.0px;top:437.00px;font-size:15.7px;color:#3a3a3a;'>4</span>
<span class='t' style='left:692.3px;top:437.00px;font-size:15.7px;color:#3a3a3a;transform:scaleX(0.9505);'>NotDefined</span>
<span class='t' style='left:804.6px;top:437.00px;font-size:15.7px;color:#3a3a3a;'>14</span>
<span class='t' style='left:943.0px;top:441.00px;font-size:15.7px;color:#3a3a3a;transform:scaleX(0.8737);'>Used</span>
<span class='t' style='left:1053.0px;top:439.00px;font-size:15.7px;color:#3a3a3a;transform:scaleX(0.8972);'>Up</span>
<span class='t' style='left:434.6px;top:480.00px;font-size:15.7px;color:#3a3a3a;transform:scaleX(0.9098);'>11.12.14.1</span>
<span class='t' style='left:602.0px;top:480.00px;font-size:15.7px;color:#3a3a3a;'>6</span>
<span class='t' style='left:692.3px;top:480.00px;font-size:15.7px;color:#3a3a3a;transform:scaleX(0.9505);'>NotDefined</span>
<span class='t' style='left:804.6px;top:480.00px;font-size:15.7px;color:#3a3a3a;'>16</span>
<span class='t' style='left:943.0px;top:484.00px;font-size:15.7px;color:#3a3a3a;transform:scaleX(0.8737);'>Used</span>
<span class='t' style='left:1053.0px;top:482.00px;font-size:15.7px;color:#3a3a3a;transform:scaleX(0.8972);'>Up</span>
<span class='t' style='left:434.6px;top:523.00px;font-size:15.7px;color:#3a3a3a;transform:scaleX(0.9098);'>11.12.14.1</span>
<span class='t' style='left:602.0px;top:523.00px;font-size:15.7px;color:#3a3a3a;'>10</span>
<span class='t' style='left:692.3px;top:523.00px;font-size:15.7px;color:#3a3a3a;transform:scaleX(0.9505);'>NotDefined</span>
<span class='t' style='left:804.6px;top:523.00px;font-size:15.7px;color:#3a3a3a;'>10</span>
<span class='t' style='left:943.0px;top:527.00px;font-size:15.7px;color:#3a3a3a;transform:scaleX(0.8737);'>Used</span>
<span class='t' style='left:1053.0px;top:525.00px;font-size:15.7px;color:#3a3a3a;transform:scaleX(0.8972);'>Up</span>
<span class='t' style='left:1119.3px;top:523.00px;font-size:15.7px;color:#3a3a3a;'>00</span>
<span class='t' style='left:1119.3px;top:544.00px;font-size:15.7px;color:#3a3a3a;'>00</span>
<span class='t' style='left:434.6px;top:584.00px;font-size:15.7px;color:#3a3a3a;transform:scaleX(0.9098);'>11.12.14.1</span>
<span class='t' style='left:602.0px;top:584.00px;font-size:15.7px;color:#3a3a3a;'>11</span>
<span class='t' style='left:692.3px;top:584.00px;font-size:15.7px;color:#3a3a3a;transform:scaleX(0.9505);'>NotDefined</span>
<span class='t' style='left:804.6px;top:584.00px;font-size:15.7px;color:#3a3a3a;'>11</span>
<span class='t' style='left:943.0px;top:588.00px;font-size:15.7px;color:#3a3a3a;transform:scaleX(0.8737);'>Used</span>
<span class='t' style='left:1053.0px;top:586.00px;font-size:15.7px;color:#3a3a3a;transform:scaleX(0.8972);'>Up</span>
<span class='t' style='left:434.6px;top:627.00px;font-size:15.7px;color:#3a3a3a;transform:scaleX(0.9098);'>11.12.14.1</span>
<span class='t' style='left:602.0px;top:627.00px;font-size:15.7px;color:#3a3a3a;'>12</span>
<span class='t' style='left:692.3px;top:627.00px;font-size:15.7px;color:#3a3a3a;transform:scaleX(0.9505);'>NotDefined</span>
<span class='t' style='left:804.6px;top:627.00px;font-size:15.7px;color:#3a3a3a;'>2</span>
<span class='t' style='left:943.0px;top:631.00px;font-size:15.7px;color:#3a3a3a;transform:scaleX(0.8737);'>Used</span>
<span class='t' style='left:1053.0px;top:629.00px;font-size:15.7px;color:#3a3a3a;transform:scaleX(0.8972);'>Up</span>
<span class='t' style='left:434.6px;top:670.00px;font-size:15.7px;color:#3a3a3a;transform:scaleX(0.9098);'>11.12.14.1</span>
<span class='t' style='left:602.0px;top:670.00px;font-size:15.7px;color:#3a3a3a;'>1</span>
<span class='t' style='left:692.3px;top:670.00px;font-size:15.7px;color:#3a3a3a;'>ifName</span>
<span class='t' style='left:804.6px;top:670.00px;font-size:15.7px;color:#3a3a3a;'>1</span>
<span class='t' style='left:943.0px;top:674.00px;font-size:15.7px;color:#3a3a3a;transform:scaleX(0.8737);'>Used</span>
<span class='t' style='left:1053.0px;top:672.00px;font-size:15.7px;color:#3a3a3a;transform:scaleX(0.8972);'>Up</span>
<span class='t' style='left:1119.3px;top:670.00px;font-size:15.7px;color:#3a3a3a;'>00</span>
<span class='t' style='left:1119.3px;top:691.00px;font-size:15.7px;color:#2a6a9a;'>m</span>
<span class='t' style='left:434.6px;top:731.00px;font-size:15.7px;color:#3a3a3a;transform:scaleX(0.9098);'>11.12.14.1</span>
<span class='t' style='left:602.0px;top:731.00px;font-size:15.7px;color:#3a3a3a;'>13</span>
<span class='t' style='left:692.3px;top:731.00px;font-size:15.7px;color:#3a3a3a;transform:scaleX(0.9505);'>NotDefined</span>
<span class='t' style='left:804.6px;top:731.00px;font-size:15.7px;color:#3a3a3a;'>3</span>
<span class='t' style='left:943.0px;top:735.00px;font-size:15.7px;color:#3a3a3a;transform:scaleX(0.8737);'>Used</span>
<span class='t' style='left:1053.0px;top:733.00px;font-size:15.7px;color:#3a3a3a;transform:scaleX(0.8972);'>Up</span>
<span class='t' style='left:1119.3px;top:731.00px;font-size:15.7px;color:#3a3a3a;'>00</span>
<span class='t' style='left:434.6px;top:774.00px;font-size:15.7px;color:#3a3a3a;transform:scaleX(0.9098);'>11.12.14.1</span>
<span class='t' style='left:602.0px;top:774.00px;font-size:15.7px;color:#3a3a3a;'>14</span>
<span class='t' style='left:692.3px;top:774.00px;font-size:15.7px;color:#3a3a3a;transform:scaleX(0.9505);'>NotDefined</span>
<span class='t' style='left:804.6px;top:774.00px;font-size:15.7px;color:#3a3a3a;'>4</span>
<span class='t' style='left:943.0px;top:778.00px;font-size:15.7px;color:#3a3a3a;transform:scaleX(0.8737);'>Used</span>
<span class='t' style='left:1053.0px;top:776.00px;font-size:15.7px;color:#3a3a3a;transform:scaleX(0.8972);'>Up</span>
<span class='t' style='left:434.6px;top:817.00px;font-size:15.7px;color:#3a3a3a;transform:scaleX(0.9098);'>11.12.14.1</span>
<span class='t' style='left:602.0px;top:817.00px;font-size:15.7px;color:#3a3a3a;'>15</span>
<span class='t' style='left:692.3px;top:817.00px;font-size:15.7px;color:#3a3a3a;transform:scaleX(0.9505);'>NotDefined</span>
<span class='t' style='left:804.6px;top:817.00px;font-size:15.7px;color:#3a3a3a;'>5</span>
<span class='t' style='left:943.0px;top:821.00px;font-size:15.7px;color:#3a3a3a;transform:scaleX(0.8737);'>Used</span>
<span class='t' style='left:1053.0px;top:819.00px;font-size:15.7px;color:#3a3a3a;transform:scaleX(0.8972);'>Up</span>
<span class='t' style='left:1063.0px;top:861.00px;font-size:13px;color:#333;transform:scaleX(0.9086);'>Page</span>
<span class='t' style='left:1101.0px;top:864.00px;font-size:10px;color:#333;'>1</span>
<span class='t' style='left:1124.0px;top:861.00px;font-size:13px;color:#333;'>of</span>
<span class='t' style='left:1166.7px;top:178.00px;font-size:23px;color:#333;transform:scaleX(0.9560);z-index:6;'>Add Switch</span>
<span class='t' style='left:1188.9px;top:283.00px;font-size:15px;color:#333;transform:scaleX(0.9693);z-index:6;'>Add Manually</span>
<span class='t' style='left:1323.3px;top:283.00px;font-size:15px;color:#333;transform:scaleX(0.9427);z-index:6;'>Import From CSV</span>
<span class='t' style='left:1490.5px;top:283.00px;font-size:15px;color:#333;transform:scaleX(0.9630);z-index:6;'>Discover</span>
<span class='t' style='left:1756.0px;top:290.00px;font-size:15px;color:#fff;transform:scaleX(0.9745);z-index:6;-webkit-text-stroke:0.45px #fff;'>Add Credential</span>
<span class='t' style='left:1155.0px;top:344.00px;font-size:15px;color:#333;transform:scaleX(0.9537);z-index:6;'>Group Name</span>
<span class='t' style='left:1165.5px;top:375.00px;font-size:15.3px;color:#555;transform:scaleX(1.0395);z-index:6;'>Default Group</span>
<span class='t' style='left:1155.0px;top:449.00px;font-size:15px;color:#333;transform:scaleX(0.9507);z-index:6;'>Switch Name</span>
<span class='t' style='left:1543.6px;top:480.00px;font-size:15px;color:#fff;transform:scaleX(0.9608);z-index:6;-webkit-text-stroke:0.45px #fff;'>Check Now</span>
<span class='t' style='left:1201.0px;top:587.00px;font-size:15px;color:#333;transform:scaleX(0.9748);z-index:6;'>SNMP v1/v2</span>
<span class='t' style='left:1475.3px;top:586.00px;font-size:15px;color:#333;transform:scaleX(0.9472);z-index:6;'>Public</span>
<span class='t' style='left:1200.2px;top:805.00px;font-size:15.5px;color:#333;transform:scaleX(0.9160);z-index:6;'>Get MAC-IP data from the Switch using SNMP</span>
<span class='t' style='left:1200.2px;top:867.00px;font-size:15.5px;color:#333;transform:scaleX(0.9019);z-index:6;'>Do Ping Sweep Before Scanning the Switch</span>
</body></html>
